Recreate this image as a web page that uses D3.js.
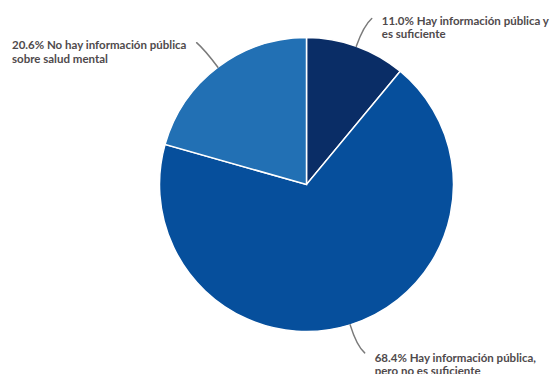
<!DOCTYPE html>
<html>
<head>
<meta charset="utf-8">
<script src="https://cdn.jsdelivr.net/npm/d3@7/dist/d3.min.js"></script>
<style>
  html, body { margin: 0; padding: 0; background: #ffffff; }
  svg { display: block; }
  .lbl { font-family: "Lato", "Open Sans", sans-serif; font-size: 11.5px; font-weight: 700; fill: #4f4a4c; }
</style>
</head>
<body>
<svg id="chart" width="550" height="374"></svg>
<script>
// Survey answers: availability of public information on mental health
const categories = [
  "Hay información pública y es suficiente",
  "Hay información pública, pero no es suficiente",
  "No hay información pública sobre salud mental"
];
const shares = [11.0, 68.4, 20.6];
const labelLines = [
  ["11.0% Hay información pública y", "es suficiente"],
  ["68.4% Hay información pública,", "pero no es suficiente"],
  ["20.6% No hay información pública", "sobre salud mental"]
];
const sliceColors = ["#0a2d66", "#064f9c", "#2270b4"];

const width = 550, height = 374;
const cx = 306.5, cy = 184.5, radius = 147;

const svg = d3.select("#chart");
const g = svg.append("g").attr("transform", `translate(${cx},${cy})`);

const color = d3.scaleOrdinal().domain(categories).range(sliceColors);

const pie = d3.pie().sort(null).value(d => d.value);
const data = categories.map((c, i) => ({ name: c, value: shares[i], lines: labelLines[i] }));
const arcs = pie(data);

const arc = d3.arc().innerRadius(0).outerRadius(radius);

g.selectAll("path.slice")
  .data(arcs)
  .enter().append("path")
  .attr("class", "slice")
  .attr("d", arc)
  .attr("fill", d => color(d.data.name))
  .attr("stroke", "#ffffff")
  .attr("stroke-width", 1.5);

// point at distance r from the centre, at angle a (clockwise from 12 o'clock)
const polar = (r, a) => [r * Math.sin(a), -r * Math.cos(a)];

arcs.forEach(d => {
  const mid = (d.startAngle + d.endAngle) / 2;
  const start = polar(radius, mid);
  const ctrl = polar(radius + 22, mid);
  const side = Math.sin(mid) >= 0 ? 1 : -1;
  const vert = Math.cos(mid) >= 0 ? -1 : 1;
  const end = [ctrl[0] + side * 8, ctrl[1] + vert * 7];

  const p = d3.path();
  p.moveTo(start[0], start[1]);
  p.quadraticCurveTo(ctrl[0], ctrl[1], end[0], end[1]);
  g.append("path")
    .attr("d", p.toString())
    .attr("fill", "none")
    .attr("stroke", "#7a7a7a")
    .attr("stroke-width", 1.5)
    .attr("stroke-linecap", "round");

  const t = g.append("text").attr("class", "lbl");
  d.data.lines.forEach((line, k) => {
    t.append("tspan").attr("x", 0).attr("dy", k === 0 ? 0 : 13.5).text(line);
  });
  const w = t.node().getBBox().width;
  const tx = side > 0 ? end[0] + 10 : end[0] - 10 - w;
  const ty = end[1] + (vert > 0 ? 9 : 6.5);
  t.attr("transform", `translate(${tx},${ty})`);
});
</script>
</body>
</html>
